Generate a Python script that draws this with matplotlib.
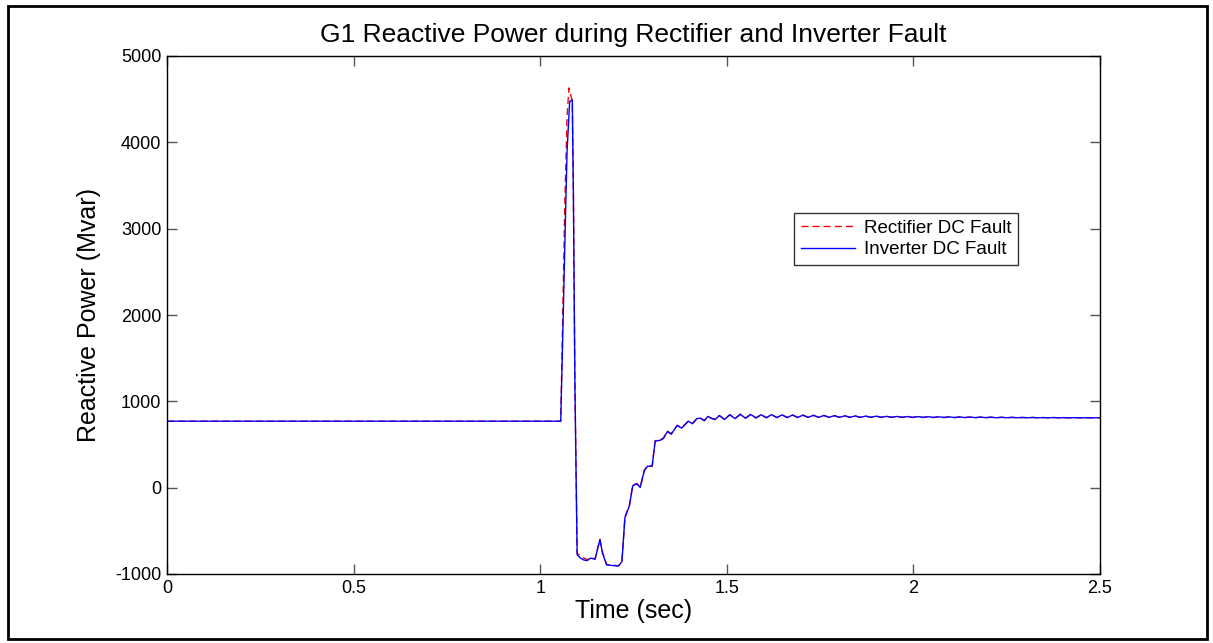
import numpy as np
import matplotlib
matplotlib.use("Agg")
from matplotlib import pyplot as plt
from matplotlib.patches import Rectangle

plt.rcParams['font.family'] = ['Liberation Sans', 'DejaVu Sans']
plt.rcParams['axes.unicode_minus'] = False

# transient part (time in sec, reactive power in Mvar)
inv_t = [0.0, 1.055, 1.061, 1.067, 1.072, 1.079, 1.086, 1.089, 1.093, 1.099,
         1.108, 1.117, 1.126, 1.135, 1.147, 1.160, 1.167, 1.178, 1.197, 1.210,
         1.219, 1.227, 1.239, 1.248, 1.259, 1.268, 1.279, 1.288, 1.300, 1.308,
         1.322, 1.330, 1.341, 1.351, 1.367, 1.379, 1.397, 1.408, 1.420, 1.429,
         1.440, 1.449, 1.460, 1.469]
inv_q = [770, 770, 1858, 3000, 3900, 4473, 4492, 3380, 1200, -777,
         -816, -838, -844, -816, -828, -602, -758, -895, -903, -907,
         -856, -348, -211, 23, 43, 3, 198, 249, 249, 538,
         550, 569, 650, 620, 720, 690, 770, 740, 800, 805,
         775, 825, 800, 790]

rec_t = [0.0, 1.055, 1.060, 1.066, 1.072, 1.077, 1.081, 1.086, 1.089, 1.093,
         1.099, 1.108, 1.117, 1.126, 1.135, 1.147, 1.160, 1.167, 1.178, 1.197,
         1.210, 1.219, 1.227, 1.239, 1.248, 1.259, 1.268, 1.279, 1.288, 1.300,
         1.308, 1.322, 1.330, 1.341, 1.351, 1.367, 1.379, 1.397, 1.408, 1.420,
         1.429, 1.440, 1.449, 1.460, 1.469]
rec_q = [770, 770, 1900, 3300, 4300, 4630, 4560, 4480, 3380, 1200,
         -760, -790, -815, -835, -812, -825, -598, -752, -890, -900,
         -905, -850, -340, -205, 30, 48, 10, 205, 255, 252,
         545, 555, 575, 655, 625, 722, 695, 772, 745, 802,
         806, 778, 826, 802, 792]

# settling ripple, sampled every 14 ms from 1.48 s (both faults coincide here)
tail_start = 1.48
tail_step = 0.014
tail_q = [835, 790, 845, 800, 850, 805, 848, 808, 845, 810,
          846, 812, 843, 812, 842, 813, 840, 814, 838, 814,
          836, 815, 834, 815, 832, 815, 830, 815, 829, 815,
          828, 815, 826, 815, 825, 815, 824, 814, 823, 814,
          822, 813, 821, 813, 820, 812, 819, 812, 818, 811,
          817, 811, 816, 810, 815, 810, 814, 810, 813, 810,
          813, 809, 812, 809, 812, 809, 811, 809, 811, 809,
          810, 809, 810, 809]

tail_t = tail_start + tail_step * np.arange(len(tail_q))

fig = plt.figure(figsize=(12.13, 6.43), dpi=100)
ax = fig.add_axes([167 / 1213, 1 - 574 / 643, 933 / 1213, 518 / 643])

ax.plot(np.concatenate([rec_t, tail_t]), np.concatenate([rec_q, tail_q]),
        color='red', linestyle='--', linewidth=1.0, dashes=(5, 3),
        label='Rectifier DC Fault')
ax.plot(np.concatenate([inv_t, tail_t]), np.concatenate([inv_q, tail_q]),
        color='blue', linewidth=1.0, label='Inverter DC Fault')

ax.set_xlim(0, 2.5)
ax.set_ylim(-1000, 5000)
ax.set_xticks([0, 0.5, 1, 1.5, 2, 2.5])
ax.set_xticklabels(['0', '0.5', '1', '1.5', '2', '2.5'])
ax.set_yticks([-1000, 0, 1000, 2000, 3000, 4000, 5000])
ax.tick_params(direction='in', length=7, width=1, color='#555555',
               top=True, right=True, labelsize=13, pad=4)
for sp in ax.spines.values():
    sp.set_linewidth(1.0)

ax.set_title('G1 Reactive Power during Rectifier and Inverter Fault',
             fontsize=19, pad=10)
ax.set_xlabel('Time (sec)', fontsize=18, labelpad=2)
ax.set_ylabel('Reactive Power (Mvar)', fontsize=18, labelpad=10)

leg = ax.legend(loc='upper left', bbox_to_anchor=(0.672, 0.697),
                fontsize=13.5, frameon=True, fancybox=False, shadow=False,
                handlelength=2.9, labelspacing=0.25, borderpad=0.35,
                handletextpad=0.5, borderaxespad=0)
leg.get_frame().set_edgecolor('black')
leg.get_frame().set_linewidth(1.0)

# outer border around the whole figure
fig.patches.append(Rectangle((8 / 1213, 4 / 643), 1199 / 1213, 633 / 643,
                             transform=fig.transFigure, fill=False,
                             edgecolor='black', linewidth=2.0))

fig.savefig('out.png', dpi=100)
